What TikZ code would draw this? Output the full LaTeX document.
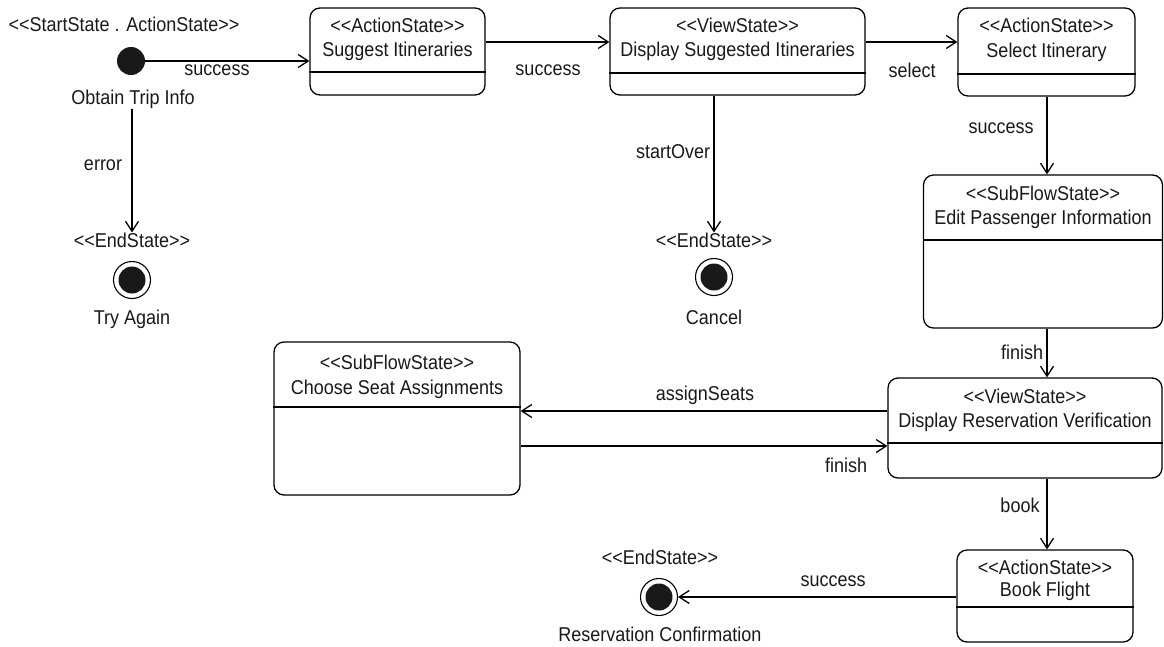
\documentclass[tikz,border=0pt]{standalone}
\usepackage{fontspec}
\setmainfont{Liberation Sans}[FakeStretch=0.9]
\usetikzlibrary{arrows.meta}
\newcommand{\opst}{<\kern0pt<}
\newcommand{\clst}{>\kern0pt>}
\begin{document}
\begin{tikzpicture}[x=1pt,y=-1pt,
  statebox/.style={draw, line width=1.3pt, rounded corners=10pt, inner sep=0pt, fill=white},
  divider/.style={line width=1.3pt},
  txt/.style={font=\fontsize{20}{22}\selectfont, inner sep=0pt, text=black!90},
  tr/.style={line width=1.3pt, -{Straight Barb[length=10pt,width=13pt,line width=1.3pt]}},
  startdot/.style={circle, fill=black!90, minimum size=28pt, inner sep=0pt},
  endouter/.style={circle, draw, line width=1.1pt, minimum size=37pt, inner sep=0pt},
  enddot/.style={circle, fill=black!90, minimum size=27pt, inner sep=0pt}]
\useasboundingbox (0,0) rectangle (1164,646);

% ---------- start state ----------
\node[txt] (startlbl) at (124,24) {\opst StartState . ActionState\clst};
\node[startdot] (start) at (131,61) {};
\node[txt] (startname) at (133,99) {Obtain Trip Info};

% ---------- Suggest Itineraries ----------
\node[statebox, minimum width=175pt, minimum height=87pt] (sugg) at (397.5,51.5) {};
\draw[divider] (sugg.west |- 0,72) -- (sugg.east |- 0,72);
\node[txt] (suggs) at (397.5,25) {\opst ActionState\clst};
\node[txt] (suggn) at (397.5,51) {Suggest Itineraries};

% ---------- Display Suggested Itineraries ----------
\node[statebox, minimum width=255pt, minimum height=87pt] (dsugg) at (737.5,51.5) {};
\draw[divider] (dsugg.west |- 0,73) -- (dsugg.east |- 0,73);
\node[txt] (dsuggs) at (737.5,25) {\opst ViewState\clst};
\node[txt] (dsuggn) at (737.5,51) {Display Suggested Itineraries};

% ---------- Select Itinerary ----------
\node[statebox, minimum width=177pt, minimum height=88pt] (sel) at (1046.5,52) {};
\draw[divider] (sel.west |- 0,74) -- (sel.east |- 0,74);
\node[txt] (sels) at (1046.5,25) {\opst ActionState\clst};
\node[txt] (seln) at (1046.5,52) {Select Itinerary};

% ---------- Edit Passenger Information ----------
\node[statebox, minimum width=239pt, minimum height=153pt] (edit) at (1043,251.5) {};
\draw[divider] (edit.west |- 0,240) -- (edit.east |- 0,240);
\node[txt] (edits) at (1043,193) {\opst SubFlowState\clst};
\node[txt] (editn) at (1043,219) {Edit Passenger Information};

% ---------- Display Reservation Verification ----------
\node[statebox, minimum width=274pt, minimum height=100pt] (dres) at (1025,428) {};
\draw[divider] (dres.west |- 0,443) -- (dres.east |- 0,443);
\node[txt] (dress) at (1025,396) {\opst ViewState\clst};
\node[txt] (dresn) at (1025,422) {Display Reservation Verification};

% ---------- Choose Seat Assignments ----------
\node[statebox, minimum width=246pt, minimum height=153pt] (seat) at (397,418.5) {};
\draw[divider] (seat.west |- 0,407) -- (seat.east |- 0,407);
\node[txt] (seats) at (397,362) {\opst SubFlowState\clst};
\node[txt] (seatn) at (397,389) {Choose Seat Assignments};

% ---------- Book Flight ----------
\node[statebox, minimum width=176pt, minimum height=92pt] (book) at (1045,596) {};
\draw[divider] (book.west |- 0,607) -- (book.east |- 0,607);
\node[txt] (books) at (1045,567) {\opst ActionState\clst};
\node[txt] (bookn) at (1045,591) {Book Flight};

% ---------- end states ----------
\node[txt] (e1s) at (132,240) {\opst EndState\clst};
\node[endouter] (e1) at (132,280) {};
\node[enddot] at (e1) {};
\node[txt] (e1n) at (132,319) {Try Again};

\node[txt] (e2s) at (714,240) {\opst EndState\clst};
\node[endouter] (e2) at (714,277) {};
\node[enddot] at (e2) {};
\node[txt] (e2n) at (714,317) {Cancel};

\node[txt] (e3s) at (660,557) {\opst EndState\clst};
\node[endouter] (e3) at (659,597) {};
\node[enddot] at (e3) {};
\node[txt] (e3n) at (660,634) {Reservation Confirmation};

% ---------- transitions ----------
\draw[tr] (start.east) -- (start.east -| sugg.west);
\node[txt] at (217,70) {success};

\draw[tr] (sugg.east |- 0,42) -- (dsugg.west |- 0,42);
\node[txt] at (548,70) {success};

\draw[tr] (dsugg.east |- 0,42) -- (sel.west |- 0,42);
\node[txt] at (912,70) {select};

\draw[tr] (dsugg.south -| 714,0) -- (e2s.north);
\node[txt] at (673,152) {startOver};

\draw[tr] (startname.south -| 132,0) -- (e1s.north);
\node[txt] at (103,165) {error};

\draw[tr] (sel.south -| 1047,0) -- (edit.north -| 1047,0);
\node[txt] at (1001,128) {success};

\draw[tr] (edit.south -| 1047,0) -- (dres.north -| 1047,0);
\node[txt] at (1022,352) {finish};

\draw[tr] (dres.west |- 0,411) -- (seat.east |- 0,411);
\node[txt] at (705,395) {assignSeats};

\draw[tr] (seat.east |- 0,446) -- (dres.west |- 0,446);
\node[txt] at (846,465) {finish};

\draw[tr] (dres.south -| 1047,0) -- (book.north -| 1047,0);
\node[txt] at (1020,505) {book};

\draw[tr] (book.west |- 0,597) -- (e3.east);
\node[txt] at (833,581) {success};
\end{tikzpicture}
\end{document}
